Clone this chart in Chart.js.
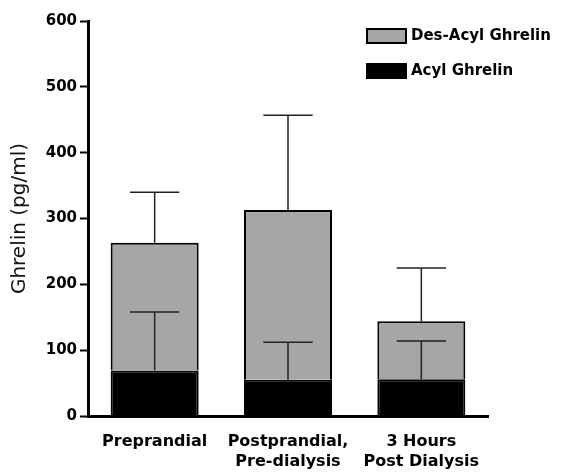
<!DOCTYPE html>
<html>
<head>
<meta charset="utf-8">
<script src="https://cdn.jsdelivr.net/npm/chart.js@4"></script>
<style>
  body { margin: 0; background: #fff; }
  #wrap { width: 569px; height: 473px; }
</style>
</head>
<body>
<div id="wrap"><canvas id="myChart" width="569" height="473"></canvas></div>
<script>
'use strict';

// chart data
let categories = [['Preprandial'], ['Postprandial,', 'Pre-dialysis'], ['3 Hours', 'Post Dialysis']];
let acylValues = [69, 55, 56];
let acylErrors = [89, 57, 58];
let desAcylValues = [194, 258, 88];
let totalErrors = [77, 144, 81]; // error above the whole stack
let yTicks = [0, 100, 200, 300, 400, 500, 600];

let ctx = document.getElementById('myChart').getContext('2d');

// draws upper error bars on top of each stacked segment
let errorBarPlugin = {
  id: 'errorBars',
  afterDatasetsDraw(chart) {
    let c = chart.ctx;
    let yScale = chart.scales.y;
    let running = [0, 0, 0];
    chart.data.datasets.forEach((ds, di) => {
      let meta = chart.getDatasetMeta(di);
      meta.data.forEach((bar, i) => {
        running[i] += ds.data[i];
        let yTop = yScale.getPixelForValue(running[i] + ds.errors[i]);
        let half = bar.width * 0.28;
        c.save();
        c.strokeStyle = '#222';
        c.lineWidth = 1.5;
        c.beginPath();
        c.moveTo(bar.x, bar.y);
        c.lineTo(bar.x, yTop);
        c.moveTo(bar.x - half, yTop);
        c.lineTo(bar.x + half, yTop);
        c.stroke();
        c.restore();
      });
    });
  }
};

// legend in the top right corner, over the plot
let boxLegendPlugin = {
  id: 'boxLegend',
  afterDraw(chart) {
    let c = chart.ctx;
    let sets = chart.data.datasets.slice().reverse();
    c.save();
    c.font = 'bold 15px "DejaVu Sans"';
    c.textBaseline = 'middle';
    sets.forEach((ds, k) => {
      let y = 29 + k * 35;
      c.fillStyle = ds.backgroundColor;
      c.fillRect(367, y, 39, 14);
      c.strokeStyle = '#000';
      c.lineWidth = 2;
      c.strokeRect(367, y, 39, 14);
      c.fillStyle = '#000';
      c.fillText(ds.label, 411, y + 7);
    });
    c.restore();
  }
};

let chartObject = {
  type: 'bar',
  data: {
    labels: categories,
    datasets: [{
      label: 'Acyl Ghrelin',
      data: acylValues,
      errors: acylErrors,
      backgroundColor: '#000000',
      borderColor: '#000000',
      borderWidth: 2,
      barPercentage: 0.66,
      categoryPercentage: 1
    },
    {
      label: 'Des-Acyl Ghrelin',
      data: desAcylValues,
      errors: totalErrors,
      backgroundColor: '#a6a6a6',
      borderColor: '#000000',
      borderWidth: 2,
      barPercentage: 0.66,
      categoryPercentage: 1
    }]
  },
  options: {
    responsive: false,
    animation: false,
    layout: {
      padding: { top: 21, right: 81, left: 0, bottom: 0 }
    },
    plugins: {
      legend: { display: false },
      tooltip: { enabled: false }
    },
    scales: {
      x: {
        stacked: true,
        grid: { display: false },
        border: { color: '#000', width: 3 },
        ticks: {
          color: '#000',
          padding: 7,
          font: { family: 'DejaVu Sans', size: 16, weight: 'bold', lineHeight: 1.3 },
          maxRotation: 0
        },
        afterFit(scale) {
          scale.height = 57;
        }
      },
      y: {
        stacked: true,
        min: 0,
        max: 600,
        afterBuildTicks(scale) {
          scale.ticks = yTicks.map(v => ({ value: v }));
        },
        grid: {
          display: true,
          drawOnChartArea: false,
          drawTicks: true,
          tickLength: 8,
          tickWidth: 2,
          tickColor: '#000'
        },
        border: { color: '#000', width: 3 },
        ticks: {
          color: '#000',
          padding: 3,
          font: { family: 'DejaVu Sans', size: 15, weight: 'bold' }
        },
        title: {
          display: true,
          text: 'Ghrelin (pg/ml)',
          color: '#111',
          padding: { top: 8, bottom: 0 },
          font: { family: 'DejaVu Sans', size: 20 }
        },
        afterFit(scale) {
          scale.width = 88;
        }
      }
    }
  },
  plugins: [errorBarPlugin, boxLegendPlugin]
};

new Chart(ctx, chartObject); //eslint-disable-line
</script>
</body>
</html>
